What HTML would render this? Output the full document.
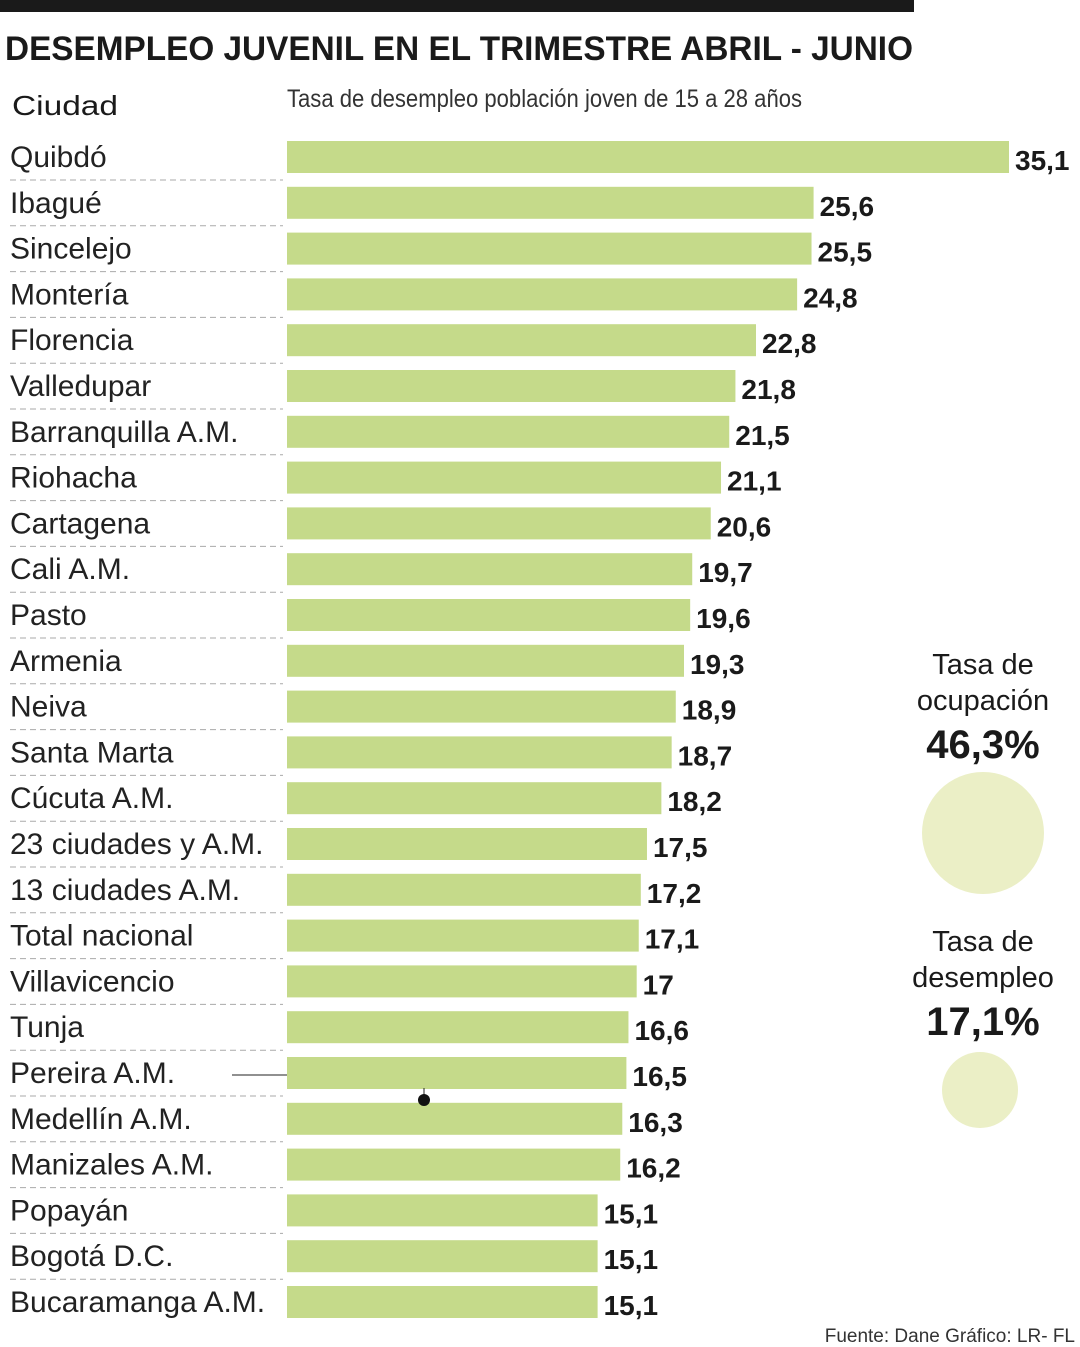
<!DOCTYPE html>
<html><head><meta charset="utf-8"><style>
html,body{margin:0;padding:0;background:#fff;}
svg{display:block;font-family:"Liberation Sans",sans-serif;}
</style></head><body>
<svg id="chart" width="1080" height="1347" viewBox="0 0 1080 1347" xmlns="http://www.w3.org/2000/svg">
<rect x="0" y="0" width="914" height="12" fill="#1a1a1a"/>
<text x="5" y="60" font-size="34" font-weight="bold" fill="#1a1a1a" textLength="908" lengthAdjust="spacingAndGlyphs">DESEMPLEO JUVENIL EN EL TRIMESTRE ABRIL - JUNIO</text>
<text x="12" y="115" font-size="28" fill="#1a1a1a" textLength="106" lengthAdjust="spacingAndGlyphs">Ciudad</text>
<text x="287" y="107" font-size="25" fill="#333" textLength="515" lengthAdjust="spacingAndGlyphs">Tasa de desempleo población joven de 15 a 28 años</text>
<g id="rows"></g>
<line x1="232" y1="1075" x2="287" y2="1075" stroke="#222" stroke-width="1"/>
<line x1="424" y1="1088" x2="424" y2="1098" stroke="#222" stroke-width="1"/>
<circle cx="424" cy="1100" r="6" fill="#111"/>
<text x="983" y="674" font-size="29" text-anchor="middle" fill="#1a1a1a">Tasa de</text>
<text x="983" y="710" font-size="29" text-anchor="middle" fill="#1a1a1a">ocupación</text>
<text x="983" y="758" font-size="40" font-weight="bold" text-anchor="middle" fill="#1a1a1a">46,3%</text>
<circle cx="983" cy="833" r="61" fill="#ebefc6"/>
<text x="983" y="951" font-size="29" text-anchor="middle" fill="#1a1a1a">Tasa de</text>
<text x="983" y="987" font-size="29" text-anchor="middle" fill="#1a1a1a">desempleo</text>
<text x="983" y="1035" font-size="40" font-weight="bold" text-anchor="middle" fill="#1a1a1a">17,1%</text>
<circle cx="980" cy="1090" r="38" fill="#ebefc6"/>
<text x="1075" y="1342" font-size="19" text-anchor="end" fill="#333">Fuente: Dane   Gráfico: LR- FL</text>
</svg>
<script>
const cities = ["Quibdó","Ibagué","Sincelejo","Montería","Florencia","Valledupar","Barranquilla A.M.","Riohacha","Cartagena","Cali A.M.","Pasto","Armenia","Neiva","Santa Marta","Cúcuta A.M.","23 ciudades y A.M.","13 ciudades A.M.","Total nacional","Villavicencio","Tunja","Pereira A.M.","Medellín A.M.","Manizales A.M.","Popayán","Bogotá D.C.","Bucaramanga A.M."];
const rates = [35.1,25.6,25.5,24.8,22.8,21.8,21.5,21.1,20.6,19.7,19.6,19.3,18.9,18.7,18.2,17.5,17.2,17.1,17,16.6,16.5,16.3,16.2,15.1,15.1,15.1];
const rateLabels = ["35,1","25,6","25,5","24,8","22,8","21,8","21,5","21,1","20,6","19,7","19,6","19,3","18,9","18,7","18,2","17,5","17,2","17,1","17","16,6","16,5","16,3","16,2","15,1","15,1","15,1"];
const NS="http://www.w3.org/2000/svg";
const x0=287, pxPer=(1009-287)/35.1;
function xScale(v){return x0+v*pxPer;}
function yCenter(i){return 157+i*45.8;}
const g=document.getElementById('rows');
function mk(tag,attrs){const e=document.createElementNS(NS,tag);for(const k in attrs)e.setAttribute(k,attrs[k]);return e;}
cities.forEach((c,i)=>{
  const yc=yCenter(i);
  const lab=mk('text',{x:10,y:yc+10,'font-size':30,fill:'#222'});
  
  
  lab.textContent=c;g.appendChild(lab);
  if(i<cities.length-1){
    const sep=mk('line',{x1:10,x2:283,y1:yc+23,y2:yc+23,stroke:'#aaa','stroke-width':1,'stroke-dasharray':'6,4'});
    
    
    g.appendChild(sep);
  }
  const b=mk('rect',{x:x0,y:yc-16,width:xScale(rates[i])-x0,height:32,fill:'#c5da8a'});
  
  
  g.appendChild(b);
  const v=mk('text',{x:xScale(rates[i])+6,y:yc+13,'font-size':28,'font-weight':'bold',fill:'#1a1a1a'});
  
  
  v.textContent=rateLabels[i];g.appendChild(v);
});
</script>
</body></html>
